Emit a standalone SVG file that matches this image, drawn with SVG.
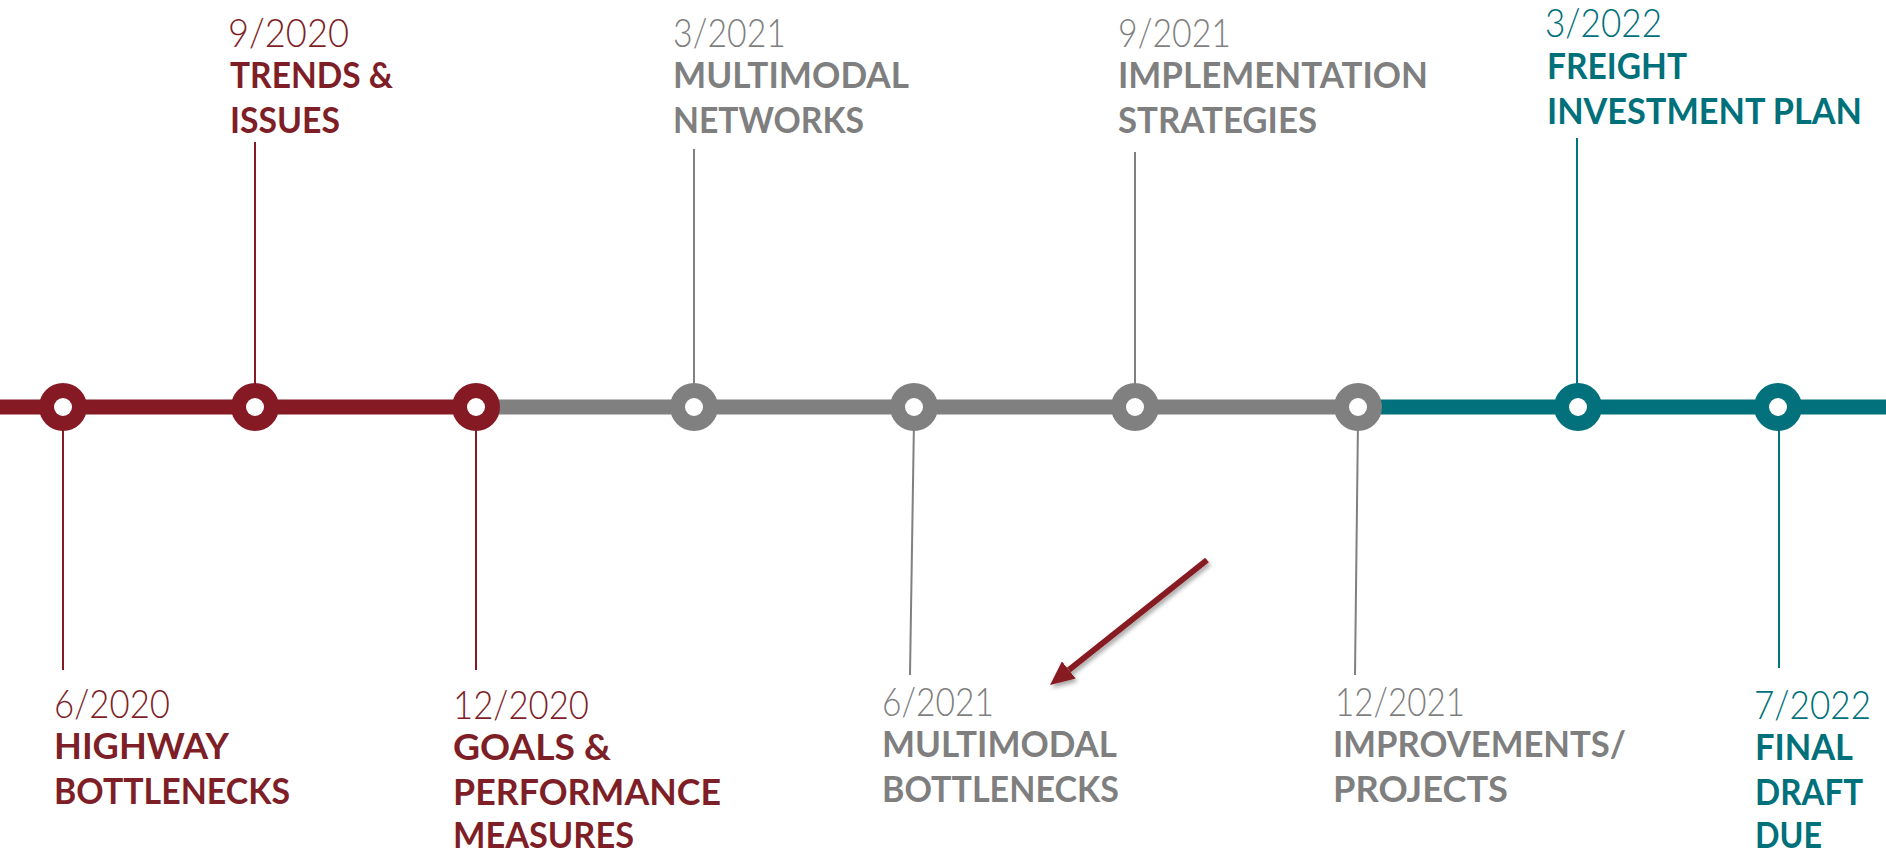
<svg xmlns="http://www.w3.org/2000/svg" width="1886" height="853" viewBox="0 0 1886 853">
  <style>
    .date { font-family: Lato, "Liberation Sans", sans-serif; font-weight: 300; font-size: 40px; }
    .title { font-family: Lato, "Liberation Sans", sans-serif; font-weight: 700; font-size: 36px; }
    .red { fill: #7E1F28; }
    .gray { fill: #7F7F7F; }
    .teal { fill: #00707A; }
    .lred { stroke: #861A24; stroke-width: 2; fill: none; }
    .lgray { stroke: #808080; stroke-width: 2; fill: none; }
    .lteal { stroke: #03737D; stroke-width: 2; fill: none; }
    .hole { fill: #FFFFFF; }
  </style>
  <defs>
    <marker id="arrowhead" markerUnits="userSpaceOnUse" viewBox="0 0 24 22" markerWidth="24" markerHeight="22" refX="0" refY="11" orient="auto">
      <path d="M0,0 L24,11 L0,22 z" fill="#861A24"/>
    </marker>
    <filter id="shadow" x="-20%" y="-20%" width="140%" height="140%">
      <feDropShadow dx="2" dy="3" stdDeviation="2" flood-color="#000" flood-opacity="0.35"/>
    </filter>
  </defs>
  <rect width="1886" height="853" fill="#FFFFFF"/>

  <g id="connectors">
    <rect x="0" y="399.5" width="476" height="15" fill="#861A24"/>
    <rect x="476" y="399.5" width="882" height="15" fill="#808080"/>
    <rect x="1358" y="399.5" width="528" height="15" fill="#02717B"/>
    <line class="lred" x1="63" y1="420" x2="63" y2="670"/>
    <line class="lred" x1="255" y1="142" x2="255" y2="390"/>
    <line class="lred" x1="476" y1="420" x2="476" y2="670"/>
    <line class="lgray" x1="694" y1="149" x2="694" y2="390"/>
    <line class="lgray" x1="914" y1="420" x2="910" y2="675"/>
    <line class="lgray" x1="1135" y1="152" x2="1135" y2="390"/>
    <line class="lgray" x1="1358" y1="420" x2="1355" y2="675"/>
    <line class="lteal" x1="1577" y1="138" x2="1577" y2="390"/>
    <line class="lteal" x1="1779" y1="420" x2="1779" y2="668"/>
    <line x1="1207" y1="560" x2="1068.8" y2="670" stroke="#861A24" stroke-width="6" marker-end="url(#arrowhead)" filter="url(#shadow)"/>
  </g>

  <g id="node-6-2020">
    <circle cx="63" cy="407" r="24" fill="#861A24"/>
    <circle class="hole" cx="63" cy="407" r="9"/>
    <text class="date red" x="54" y="718" textLength="116" lengthAdjust="spacingAndGlyphs">6/2020</text>
    <text class="title red" x="54" y="759" textLength="175" lengthAdjust="spacingAndGlyphs">HIGHWAY</text>
    <text class="title red" x="54" y="804" textLength="236" lengthAdjust="spacingAndGlyphs">BOTTLENECKS</text>
  </g>

  <g id="node-9-2020">
    <circle cx="255" cy="407" r="24" fill="#861A24"/>
    <circle class="hole" cx="255" cy="407" r="9"/>
    <text class="date red" x="228" y="47" textLength="121" lengthAdjust="spacingAndGlyphs">9/2020</text>
    <text class="title red" x="230" y="88" textLength="163" lengthAdjust="spacingAndGlyphs">TRENDS &amp;</text>
    <text class="title red" x="230" y="133" textLength="110" lengthAdjust="spacingAndGlyphs">ISSUES</text>
  </g>

  <g id="node-12-2020">
    <circle cx="476" cy="407" r="24" fill="#861A24"/>
    <circle class="hole" cx="476" cy="407" r="9"/>
    <text class="date red" x="453" y="719" textLength="136" lengthAdjust="spacingAndGlyphs">12/2020</text>
    <text class="title red" x="453" y="760" textLength="158" lengthAdjust="spacingAndGlyphs">GOALS &amp;</text>
    <text class="title red" x="453" y="805" textLength="268" lengthAdjust="spacingAndGlyphs">PERFORMANCE</text>
    <text class="title red" x="453" y="848" textLength="181" lengthAdjust="spacingAndGlyphs">MEASURES</text>
  </g>

  <g id="node-3-2021">
    <circle cx="694" cy="407" r="24" fill="#808080"/>
    <circle class="hole" cx="694" cy="407" r="9"/>
    <text class="date gray" x="673" y="47" textLength="113" lengthAdjust="spacingAndGlyphs">3/2021</text>
    <text class="title gray" x="673" y="88" textLength="236" lengthAdjust="spacingAndGlyphs">MULTIMODAL</text>
    <text class="title gray" x="673" y="133" textLength="191" lengthAdjust="spacingAndGlyphs">NETWORKS</text>
  </g>

  <g id="node-6-2021">
    <circle cx="914" cy="407" r="24" fill="#808080"/>
    <circle class="hole" cx="914" cy="407" r="9"/>
    <text class="date gray" x="882" y="716" textLength="112" lengthAdjust="spacingAndGlyphs">6/2021</text>
    <text class="title gray" x="882" y="757" textLength="235" lengthAdjust="spacingAndGlyphs">MULTIMODAL</text>
    <text class="title gray" x="882" y="802" textLength="237" lengthAdjust="spacingAndGlyphs">BOTTLENECKS</text>
  </g>

  <g id="node-9-2021">
    <circle cx="1135" cy="407" r="24" fill="#808080"/>
    <circle class="hole" cx="1135" cy="407" r="9"/>
    <text class="date gray" x="1118" y="47" textLength="113" lengthAdjust="spacingAndGlyphs">9/2021</text>
    <text class="title gray" x="1118" y="88" textLength="310" lengthAdjust="spacingAndGlyphs">IMPLEMENTATION</text>
    <text class="title gray" x="1118" y="133" textLength="199" lengthAdjust="spacingAndGlyphs">STRATEGIES</text>
  </g>

  <g id="node-12-2021">
    <circle cx="1358" cy="407" r="24" fill="#808080"/>
    <circle class="hole" cx="1358" cy="407" r="9"/>
    <text class="date gray" x="1335" y="716" textLength="130" lengthAdjust="spacingAndGlyphs">12/2021</text>
    <text class="title gray" x="1333" y="757" textLength="293" lengthAdjust="spacingAndGlyphs">IMPROVEMENTS/</text>
    <text class="title gray" x="1333" y="802" textLength="175" lengthAdjust="spacingAndGlyphs">PROJECTS</text>
  </g>

  <g id="node-3-2022">
    <circle cx="1578" cy="407" r="24" fill="#02717B"/>
    <circle class="hole" cx="1578" cy="407" r="9"/>
    <text class="date teal" x="1545" y="37" textLength="117" lengthAdjust="spacingAndGlyphs">3/2022</text>
    <text class="title teal" x="1547" y="79" textLength="140" lengthAdjust="spacingAndGlyphs">FREIGHT</text>
    <text class="title teal" x="1547" y="124" textLength="315" lengthAdjust="spacingAndGlyphs">INVESTMENT PLAN</text>
  </g>

  <g id="node-7-2022">
    <circle cx="1778" cy="407" r="24" fill="#02717B"/>
    <circle class="hole" cx="1778" cy="407" r="9"/>
    <text class="date teal" x="1754" y="719" textLength="117" lengthAdjust="spacingAndGlyphs">7/2022</text>
    <text class="title teal" x="1755" y="760" textLength="98" lengthAdjust="spacingAndGlyphs">FINAL</text>
    <text class="title teal" x="1755" y="805" textLength="108" lengthAdjust="spacingAndGlyphs">DRAFT</text>
    <text class="title teal" x="1755" y="848" textLength="67" lengthAdjust="spacingAndGlyphs">DUE</text>
  </g>
</svg>
